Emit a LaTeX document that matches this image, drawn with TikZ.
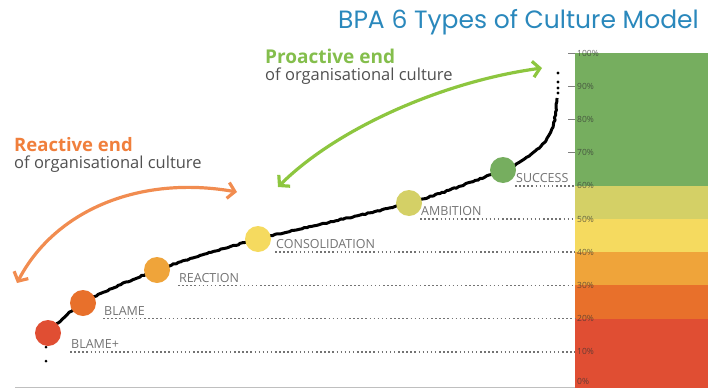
\documentclass[tikz,border=0pt]{standalone}
\usepackage{fontspec}
\setmainfont{Open Sans}
\newfontfamily\titlefont{Poppins}
\usetikzlibrary{%
	calc,%
	arrows.meta,%
	decorations.pathmorphing
}
\definecolor{lvlred}{HTML}{E04E33}
\definecolor{lvldorange}{HTML}{E8702B}
\definecolor{lvlorange}{HTML}{EFA43A}
\definecolor{lvlyellow}{HTML}{F5DA5F}
\definecolor{lvlolive}{HTML}{D4D066}
\definecolor{lvlgreen}{HTML}{76AE5F}
\definecolor{reactcol}{HTML}{F07F3C}
\definecolor{procol}{HTML}{84BE4C}
\definecolor{proarrow}{HTML}{8DC63F}
\definecolor{titleblue}{HTML}{2A88BC}
\definecolor{subgray}{HTML}{505050}
\tikzstyle{levellabel}=[anchor=south west, inner sep=1pt, text=black!55, font=\fontsize{12.5}{12.5}\selectfont]
\tikzstyle{levelline}=[draw=black!55, line width=1.5pt, dash pattern=on 1.5pt off 2.6pt]
\tikzstyle{pct}=[anchor=west, inner sep=0pt, text=black!80, opacity=0.7, font=\fontsize{8.5}{8.5}\selectfont]
\tikzstyle{endarrow}=[line width=3.2pt, {Straight Barb[length=7pt,width=16pt,line width=3.2pt]}-{Straight Barb[length=7pt,width=16pt,line width=3.2pt]}]
\tikzstyle{curve}=[line width=3pt, decorate, decoration={random steps, segment length=2.5pt, amplitude=0.6pt}]

\begin{document}
\begin{tikzpicture}[x=1pt, y=-1pt, line join=round]
	\useasboundingbox (0,0) rectangle (714,388);
	\coordinate (barleft) at (575,0);
	\coordinate (axisleft) at (15,387);
	
	% Scale bar
	\foreach \lo/\hi/\col in {-1/20/lvlred, 20/30/lvldorange, 30/40/lvlorange, 40/50/lvlyellow, 50/60/lvlolive, 60/100/lvlgreen}
	\fill[\col] (575,{385-3.32*\lo}) rectangle (708,{385-3.32*\hi});
	\draw[gray!50, line width=0.8pt] (axisleft) -- (axisleft -| barleft);
	\foreach \p in {0,10,...,100}
	\node[pct] (p\p) at (577,{min(385-3.32*\p,381)}) {\p\%};
	\foreach \p in {70,80,90,100}
	\draw[gray, line width=0.6pt] (568,{385-3.32*\p}) -- (575,{385-3.32*\p});
	
	% Levels
	\foreach \name/\txt/\p/\cx/\cy/\lx in {blameplus/BLAME+/10/48/333/70, blame/BLAME/20/83/303/103, reaction/REACTION/30/157/270/178, consolidation/CONSOLIDATION/40/258/239/275, ambition/AMBITION/50/409/203/420, success/SUCCESS/60/503/170/515}
	{
		\coordinate (\name) at (\cx,\cy);
		\coordinate (\name-start) at (\lx,{385-3.32*\p});
		\draw[levelline] (\name-start) -- (\name-start -| barleft);
		\node[levellabel] (\name-lbl) at ($(\name-start)+(0,-2)$) {\txt};
	}
	
	% Culture curve
	\coordinate (curvetop) at (557,98);
	\draw[curve] plot[smooth, tension=0.55] coordinates {(blameplus) (blame) (reaction) (consolidation) (ambition) (success) (523,160) (541,146) (553,127) (curvetop)};
	\foreach \y in {73,82,88,93}
	\fill (558,\y) circle (1.7);
	\foreach \y in {347,361}
	\fill (46,\y) circle (1.5);
	
	\foreach \name/\col in {blameplus/lvlred, blame/lvldorange, reaction/lvlorange, consolidation/lvlyellow, ambition/lvlolive, success/lvlgreen}
	\fill[\col] (\name) circle (13);
	
	% Ends of the scale
	\coordinate (reactleft) at (17,283);
	\coordinate (reactright) at (237,192);
	\coordinate (proleft) at (278,187);
	\coordinate (proright) at (542,68);
	\draw[endarrow, reactcol!90] (reactleft) .. controls (55,210) and (140,175) .. (reactright);
	\draw[endarrow, proarrow] (proleft) .. controls (335,130) and (440,82) .. (proright);
	
	\node[anchor=base west, inner sep=0pt, text=reactcol, font=\bfseries\fontsize{18.5}{18.5}\selectfont] (reactive) at (14,151) {Reactive end};
	\node[anchor=base west, inner sep=0pt, text=subgray, font=\fontsize{16.5}{16.5}\selectfont] (reactsub) at (14,168) {of organisational culture};
	\node[anchor=base west, inner sep=0pt, text=procol, font=\bfseries\fontsize{19}{19}\selectfont] (proactive) at (265,63) {Proactive end};
	\node[anchor=base west, inner sep=0pt, text=subgray, font=\fontsize{16.5}{16.5}\selectfont] (prosub) at (265,80) {of organisational culture};
	
	\node[anchor=base east, inner sep=0pt, text=titleblue, font=\titlefont\fontsize{25}{25}\selectfont] (title) at (699,28) {BPA 6 Types of Culture Model};
\end{tikzpicture}
\end{document}
